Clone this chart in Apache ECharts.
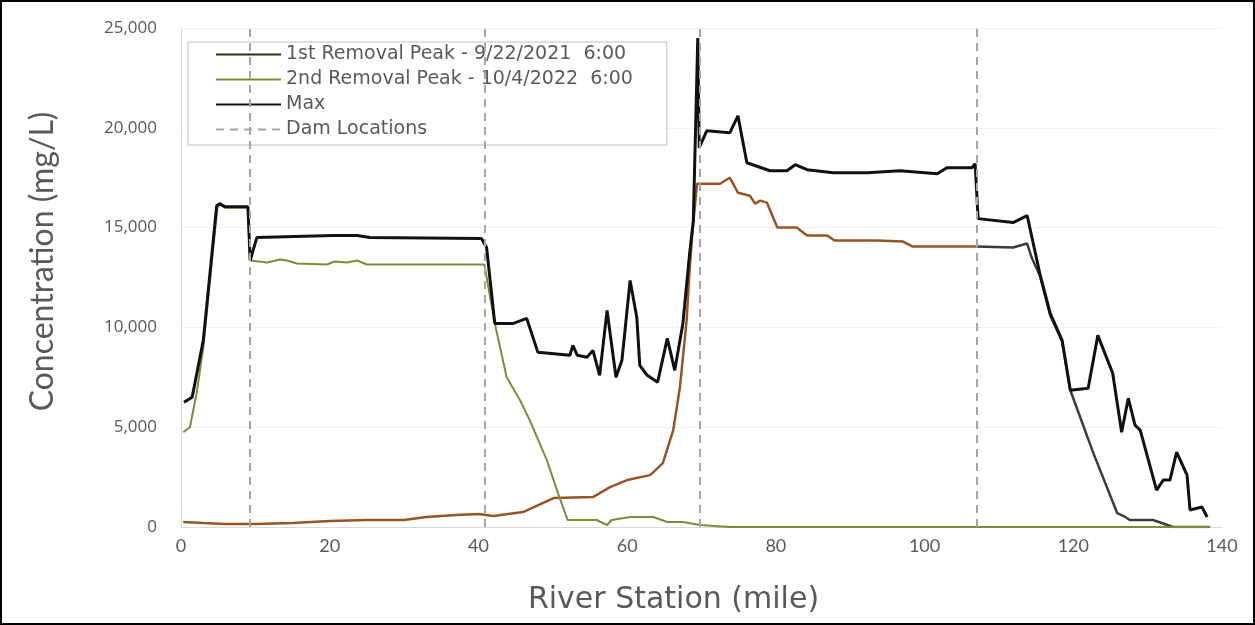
<!DOCTYPE html>
<html>
<head>
<meta charset="utf-8">
<script src="https://cdn.jsdelivr.net/npm/echarts@6/dist/echarts.min.js"></script>
<style>
  html, body { margin: 0; padding: 0; background: #fff; }
  #frame { width: 1255px; height: 625px; box-sizing: border-box; border: 2px solid #000; }
  #chart { width: 1251px; height: 621px; }
</style>
</head>
<body>
<div id="frame"><div id="chart"></div></div>
<script>
// 数据
var damMiles = [9.3, 40.9, 69.8, 107.0];

// 1st removal peak, upstream of the last dam (drawn brown)
var peak1Miles = [0.3, 3, 6, 10, 15, 20, 25, 30, 33, 37, 40, 42, 46, 50.1, 55.4, 57.7, 60, 63.1, 64.8, 66.2, 67.1, 68, 68.4, 68.8, 69.4,
  72.5, 73.8, 74.9, 76.5, 77.2, 77.9, 78.8, 80.2, 82.8, 84.2, 86.9, 87.9, 93.6, 97.1, 98.4, 106.4, 107];
var peak1Conc = [250, 200, 150, 150, 200, 300, 350, 350, 500, 600, 650, 550, 750, 1450, 1500, 2000, 2350, 2600, 3200, 4850, 7000, 10350, 12850, 14850, 17200,
  17200, 17500, 16750, 16600, 16200, 16350, 16250, 15000, 15000, 14600, 14600, 14350, 14350, 14300, 14050, 14050, 14050];
// 1st removal peak, downstream of the last dam (drawn dark grey)
var peak1DownMiles = [107, 111.9, 113.8, 114.4, 115.5, 116.9, 118.5, 119.6, 122.7, 125.9, 126.8, 127.6, 130.7, 131.5, 133.4, 138.4];
var peak1DownConc = [14050, 14000, 14200, 13500, 12600, 10600, 9300, 6850, 3700, 700, 550, 350, 350, 250, 0, 0];

var peak2Miles = [0.3, 1.2, 2.1, 3.0, 4.3, 4.9, 5.2, 5.9, 9.0, 9.3, 11.6, 13.3, 14.2, 15.6, 19.6, 20.7, 22.3, 23.7, 25.0, 40.8,
  42.2, 43.8, 45.6, 46.9, 49.2, 50.7, 52.0, 55.9, 57.3, 57.9, 60.4, 63.5, 65.4, 67.5, 69.8, 73.8, 138.4];
var peak2Conc = [4750, 5000, 6700, 9000, 13850, 16000, 16150, 16000, 16000, 13350, 13250, 13400, 13350, 13200, 13150, 13300, 13250, 13350, 13150, 13150,
  10200, 7500, 6350, 5350, 3350, 1700, 350, 350, 100, 350, 500, 500, 250, 250, 100, 0, 0];

var maxMiles = [0.4, 1.5, 3.0, 4.8, 5.2, 5.9, 9.0, 9.3, 10.2, 20.4, 23.7, 25.4, 40.4, 41.1, 42.2, 44.7, 46.5, 48.0, 52.3, 52.7, 53.3,
  54.6, 55.4, 56.3, 57.3, 58.5, 59.3, 60.4, 61.3, 61.7, 62.7, 64.1, 65.4, 66.4, 67.5, 68.4, 68.9, 69.5, 69.7, 70.7, 73.8, 74.9,
  76.1, 79.2, 81.5, 82.6, 84.2, 87.7, 92.3, 96.7, 101.7, 103.0, 106.4, 106.8, 107.2, 111.9, 113.8, 115.5, 116.9, 118.5, 119.6,
  122.0, 123.3, 125.3, 126.5, 127.4, 128.3, 129.0, 131.2, 132.1, 133.0, 133.9, 135.3, 135.7, 137.3, 138.0];
var maxConc = [6250, 6500, 9350, 16100, 16200, 16050, 16050, 13350, 14500, 14600, 14600, 14500, 14450, 14000, 10200, 10200, 10450, 8750, 8600, 9100, 8600,
  8500, 8850, 7600, 10850, 7500, 8350, 12350, 10500, 8100, 7600, 7250, 9450, 7850, 10200, 13700, 15350, 24500, 19000, 19850, 19750, 20600,
  18250, 17850, 17850, 18150, 17900, 17750, 17750, 17850, 17700, 18000, 18000, 18200, 15450, 15250, 15600, 12700, 10700, 9350, 6850,
  6950, 9600, 7700, 4750, 6450, 5100, 4850, 1850, 2350, 2350, 3750, 2600, 850, 1000, 500];

var xTicks = [0, 140, 20];       // min, max, interval
var yTicks = [0, 25000, 5000];

var seriesNames = ['1st Removal Peak - 9/22/2021  6:00', '2nd Removal Peak - 10/4/2022  6:00', 'Max', 'Dam Locations'];

function pairs(xs, ys) {
  return xs.map(function (x, i) { return [x, ys[i]]; });
}

var gray = '#595959';
var myChart = echarts.init(document.getElementById('chart'));
var option = {
  animation: false,
  grid: { left: 179, right: 31, top: 26, bottom: 96 },
  legend: {
    orient: 'vertical',
    left: 186, top: 40,
    padding: [3, 34, 6, 27],
    itemWidth: 65, itemHeight: 14, itemGap: 6,
    itemStyle: { opacity: 0 },
    borderColor: '#bfbfbf', borderWidth: 1,
    backgroundColor: '#fff',
    textStyle: { fontFamily: 'DejaVu Sans', fontSize: 19, color: gray },
    data: [
      { name: seriesNames[0], lineStyle: { color: '#2e3014' } },
      { name: seriesNames[1] },
      { name: seriesNames[2] },
      { name: seriesNames[3] }
    ]
  },
  xAxis: {
    type: 'value', min: xTicks[0], max: xTicks[1], interval: xTicks[2],
    name: 'River Station (mile)', nameLocation: 'middle', nameGap: 58,
    nameTextStyle: { fontFamily: 'DejaVu Sans', fontSize: 30, color: gray, padding: [0, 56, 0, 0] },
    axisLine: { show: true, lineStyle: { color: '#d9d9d9' } },
    axisTick: { show: false },
    axisLabel: { margin: 10, fontFamily: 'Lato', fontSize: 18, color: gray },
    splitLine: { show: false }
  },
  yAxis: {
    type: 'value', min: yTicks[0], max: yTicks[1], interval: yTicks[2],
    name: 'Concentration (mg/L)', nameLocation: 'middle', nameGap: 122,
    nameTextStyle: { fontFamily: 'Lato', fontSize: 32, color: gray, padding: [0, 0, 0, 32] },
    axisLine: { show: true, lineStyle: { color: '#d9d9d9' } },
    axisTick: { show: false },
    axisLabel: {
      margin: 24, fontFamily: 'Open Sans', fontSize: 17, color: gray,
      formatter: function (v) { return v.toLocaleString('en-US'); }
    },
    splitLine: { show: true, lineStyle: { color: '#f2f2f2' } }
  },
  series: [
    {
      name: seriesNames[0], type: 'line', symbol: 'none', z: 3,
      lineStyle: { width: 2.5, color: '#9a5424' }, itemStyle: { color: '#2e3014' },
      data: pairs(peak1Miles, peak1Conc)
    },
    {
      name: '1st Removal Peak (downstream)', type: 'line', symbol: 'none', z: 3,
      lineStyle: { width: 2.5, color: '#3c3c3c' }, itemStyle: { color: '#3c3c3c' },
      data: pairs(peak1DownMiles, peak1DownConc)
    },
    {
      name: seriesNames[1], type: 'line', symbol: 'none', z: 3,
      lineStyle: { width: 2, color: '#7e8c3a' }, itemStyle: { color: '#7e8c3a' },
      data: pairs(peak2Miles, peak2Conc)
    },
    {
      name: seriesNames[2], type: 'line', symbol: 'none', z: 4,
      lineStyle: { width: 3, color: '#111' }, itemStyle: { color: '#111' },
      data: pairs(maxMiles, maxConc)
    },
    {
      name: seriesNames[3], type: 'line', symbol: 'none', z: 2,
      lineStyle: { width: 2, color: '#a6a6a6', type: [8, 6] }, itemStyle: { color: '#a6a6a6' },
      data: [],
      markLine: {
        silent: true, symbol: 'none', label: { show: false },
        lineStyle: { width: 2, color: '#a6a6a6', type: [8, 6] },
        data: damMiles.map(function (m) { return { xAxis: m }; })
      }
    }
  ]
};
myChart.setOption(option);
</script>
</body>
</html>
